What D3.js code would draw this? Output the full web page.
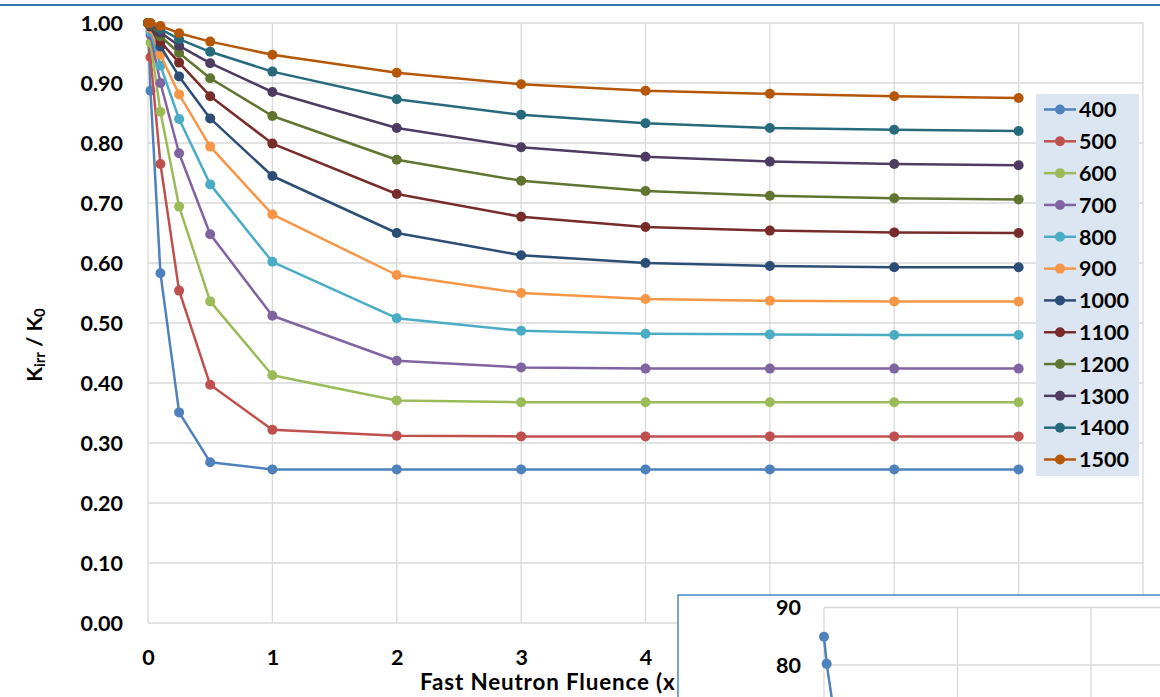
<!DOCTYPE html>
<html>
<head>
<meta charset="utf-8">
<script src="https://cdn.jsdelivr.net/npm/d3@7"></script>
<style>
  body { margin: 0; background: #fff; }
  svg { display: block; font-family: Lato, "Open Sans", sans-serif; font-weight: bold; }
  .grid line { stroke: #d9d9d9; stroke-width: 1.3; }
  .tick text { fill: #000; }
</style>
</head>
<body>
<div id="plot"></div>
<script>
// x values (fluence) shared by every series
const fluence = [0, 0.02, 0.1, 0.25, 0.5, 1, 2, 3, 4, 5, 6, 7]
const temps = ["400", "500", "600", "700", "800", "900", "1000", "1100", "1200", "1300", "1400", "1500"]
const colors = ["#4F81BD", "#C0504D", "#9BBB59", "#8064A2", "#4BACC6", "#F79646",
                "#2C4D75", "#772C2A", "#5F7530", "#4D3B62", "#276A7C", "#B65708"]

const k400  = [1.00, 0.887, 0.583, 0.351, 0.268, 0.256, 0.256, 0.256, 0.256, 0.256, 0.256, 0.256]
const k500  = [1.00, 0.943, 0.765, 0.554, 0.397, 0.322, 0.312, 0.311, 0.311, 0.311, 0.311, 0.311]
const k600  = [1.00, 0.967, 0.852, 0.694, 0.536, 0.413, 0.371, 0.368, 0.368, 0.368, 0.368, 0.368]
const k700  = [1.00, 0.980, 0.900, 0.783, 0.648, 0.512, 0.437, 0.426, 0.424, 0.424, 0.424, 0.424]
const k800  = [1.00, 0.986, 0.929, 0.840, 0.731, 0.602, 0.508, 0.487, 0.482, 0.481, 0.480, 0.480]
const k900  = [1.00, 0.991, 0.947, 0.881, 0.794, 0.681, 0.580, 0.550, 0.540, 0.537, 0.536, 0.536]
const k1000 = [1.00, 0.994, 0.961, 0.911, 0.841, 0.745, 0.650, 0.613, 0.600, 0.595, 0.593, 0.593]
const k1100 = [1.00, 0.996, 0.969, 0.934, 0.878, 0.799, 0.715, 0.677, 0.660, 0.654, 0.651, 0.650]
const k1200 = [1.00, 0.997, 0.978, 0.950, 0.908, 0.845, 0.772, 0.737, 0.720, 0.712, 0.708, 0.706]
const k1300 = [1.00, 0.998, 0.984, 0.962, 0.933, 0.885, 0.825, 0.793, 0.777, 0.769, 0.765, 0.763]
const k1400 = [1.00, 0.999, 0.990, 0.973, 0.952, 0.919, 0.873, 0.847, 0.833, 0.825, 0.822, 0.820]
const k1500 = [1.00, 1.000, 0.995, 0.983, 0.969, 0.947, 0.917, 0.898, 0.887, 0.882, 0.878, 0.875]
const series = [k400, k500, k600, k700, k800, k900, k1000, k1100, k1200, k1300, k1400, k1500]

const yTicks = [0, 0.1, 0.2, 0.3, 0.4, 0.5, 0.6, 0.7, 0.8, 0.9, 1.0]
const xTicks = [0, 1, 2, 3, 4, 5, 6, 7, 8]

// second (overlapping) chart, only its top-left corner is visible
const insetX = [0, 0.02, 0.1]
const insetY = [84.9, 80.2, 67.7]
const insetYTicks = [80, 90]
const insetXTicks = [0, 1, 2, 3]

const W = 1160, H = 697

const svg = d3.select("#plot").append("svg")
  .attr("width", W)
  .attr("height", H)

// slide header rule
svg.append("line")
  .attr("x1", 0).attr("x2", W)
  .attr("y1", 5).attr("y2", 5)
  .attr("stroke", "#2E75B6")
  .attr("stroke-width", 2)

const x = d3.scaleLinear().domain([0, 8]).range([148, 1143]),
      y = d3.scaleLinear().domain([0, 1]).range([623, 23])

// gridlines
svg.append("g").attr("class", "grid")
  .selectAll("line").data(yTicks).join("line")
  .attr("x1", x(0)).attr("x2", x(8))
  .attr("y1", d => y(d)).attr("y2", d => y(d))
svg.append("g").attr("class", "grid")
  .selectAll("line").data(xTicks).join("line")
  .attr("x1", d => x(d)).attr("x2", d => x(d))
  .attr("y1", y(0)).attr("y2", y(1))

// axes labels (tick text only)
svg.append("g")
  .attr("transform", `translate(${x(0) - 22}, 0)`)
  .call(d3.axisLeft(y).tickValues(yTicks).tickFormat(d3.format(".2f")).tickSize(0))
  .call(g => g.select(".domain").remove())
  .selectAll("text")
  .attr("font-size", 21.5)
  .attr("font-family", "Lato, sans-serif")
  .attr("font-weight", "bold")
  .attr("dy", "0.35em")

svg.append("g")
  .attr("transform", `translate(0, ${y(0) + 24})`)
  .call(d3.axisBottom(x).tickValues(xTicks).tickFormat(d3.format("d")).tickSize(0))
  .call(g => g.select(".domain").remove())
  .selectAll("text")
  .attr("font-size", 21.5)
  .attr("font-family", "Lato, sans-serif")
  .attr("font-weight", "bold")

// y title
const yTitle = svg.append("text")
  .attr("transform", "translate(42, 345) rotate(-90)")
  .attr("text-anchor", "middle")
  .attr("font-size", 21.5)
yTitle.append("tspan").text("K")
yTitle.append("tspan").attr("font-size", 15).attr("dy", 3).text("irr")
yTitle.append("tspan").attr("dy", -3).text(" / K")
yTitle.append("tspan").attr("font-size", 15).attr("dy", 3).text("0")

// x title, the rest of it is hidden behind the second chart
svg.append("text")
  .attr("x", 420)
  .attr("y", 690)
  .attr("font-size", 22.4)
  .attr("letter-spacing", 0.85)
  .text("Fast Neutron Fluence (x")

// series
const line = d3.line()
  .x((d, i) => x(fluence[i]))
  .y(d => y(d))

const layer = svg.append("g")
series.forEach((s, k) => {
  layer.append("path")
    .datum(s)
    .attr("fill", "none")
    .attr("stroke", colors[k])
    .attr("stroke-width", 2.5)
    .attr("stroke-linejoin", "round")
    .attr("d", line)
  layer.append("g")
    .selectAll("circle").data(s).join("circle")
    .attr("cx", (d, i) => x(fluence[i]))
    .attr("cy", d => y(d))
    .attr("r", 5)
    .attr("fill", colors[k])
})

// legend
const legend = svg.append("g").attr("transform", "translate(1036, 94)")
legend.append("rect")
  .attr("width", 103)
  .attr("height", 382)
  .attr("fill", "#DCE6F2")
const row = d3.scaleLinear().domain([0, 11]).range([15.5, 365.5])
temps.forEach((t, k) => {
  const r = legend.append("g").attr("transform", `translate(0, ${row(k)})`)
  r.append("line")
    .attr("x1", 8).attr("x2", 40)
    .attr("stroke", colors[k])
    .attr("stroke-width", 2.5)
  r.append("circle")
    .attr("cx", 24).attr("r", 5)
    .attr("fill", colors[k])
  r.append("text")
    .attr("x", 43)
    .attr("dy", "0.36em")
    .attr("font-size", 21.5)
    .text(t)
})

// overlapping second chart
const inset = svg.append("g")
inset.append("rect")
  .attr("x", 678).attr("y", 595)
  .attr("width", 500).attr("height", 120)
  .attr("fill", "#fff")
  .attr("stroke", "#4A86C8")
  .attr("stroke-width", 1.5)

const ix = d3.scaleLinear().domain([0, 1]).range([824, 957.5]),
      iy = d3.scaleLinear().domain([80, 90]).range([665, 607.5])

inset.append("g").attr("class", "grid")
  .selectAll("line").data(insetYTicks).join("line")
  .attr("x1", ix(0)).attr("x2", W)
  .attr("y1", d => iy(d)).attr("y2", d => iy(d))
inset.append("g").attr("class", "grid")
  .selectAll("line").data(insetXTicks).join("line")
  .attr("x1", d => ix(d)).attr("x2", d => ix(d))
  .attr("y1", iy(90)).attr("y2", H)

inset.selectAll("text.ilab").data(insetYTicks).join("text")
  .attr("class", "ilab")
  .attr("x", 801)
  .attr("y", d => iy(d))
  .attr("dy", "0.36em")
  .attr("text-anchor", "end")
  .attr("font-size", 21.5)
  .text(d => d)

inset.append("path")
  .datum(insetY)
  .attr("fill", "none")
  .attr("stroke", colors[0])
  .attr("stroke-width", 2.5)
  .attr("d", d3.line().x((d, i) => ix(insetX[i])).y(d => iy(d)))
inset.selectAll("circle").data(insetY).join("circle")
  .attr("cx", (d, i) => ix(insetX[i]))
  .attr("cy", d => iy(d))
  .attr("r", 5)
  .attr("fill", colors[0])
</script>
</body>
</html>
